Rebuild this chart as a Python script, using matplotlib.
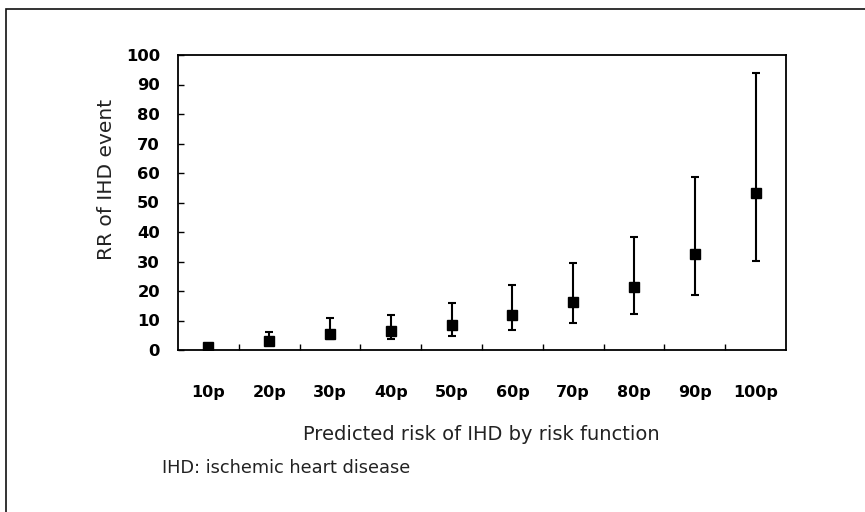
import numpy as np
import matplotlib
matplotlib.use("Agg")
import matplotlib.pyplot as plt
from matplotlib.patches import Rectangle

# RR of IHD event by decile of predicted risk
categories = ["10p", "20p", "30p", "40p", "50p", "60p", "70p", "80p", "90p", "100p"]
rr = [1.0, 3.0, 5.4, 6.4, 8.5, 11.9, 16.2, 21.2, 32.5, 53.1]
ci_low = [0.6, 1.8, 3.6, 3.8, 4.7, 6.9, 9.3, 12.2, 18.6, 30.3]
ci_high = [1.6, 6.2, 10.8, 11.9, 15.8, 22.0, 29.6, 38.4, 58.5, 94.0]
yticks = [0, 10, 20, 30, 40, 50, 60, 70, 80, 90, 100]

W, H = 865, 512
fig = plt.figure(figsize=(W / 100, H / 100), dpi=100)

# outer frame (runs off the right and bottom edges)
fig.patches.append(Rectangle((5.5 / W, -0.1), 1.2, 1 - 9 / H + 0.1,
                             transform=fig.transFigure, fill=False,
                             edgecolor="#111111", linewidth=1.2))

ax = fig.add_axes([178 / W, 1 - 350 / H, (786 - 178) / W, (350 - 55) / H])

x = np.arange(len(categories))
rr = np.array(rr)
yerr = np.array([rr - np.array(ci_low), np.array(ci_high) - rr])
ax.errorbar(x, rr, yerr=yerr, fmt="s", color="black", markersize=7.5,
            elinewidth=1.5, capsize=3, capthick=1.5)

ax.set_xlim(-0.5, len(categories) - 0.5)
ax.set_ylim(0, 100)
ax.set_yticks(yticks)
ax.set_yticklabels([str(v) for v in yticks], fontsize=11.8, fontweight="bold")
ax.set_xticks(x)
ax.set_xticklabels(categories, fontsize=11.5, fontweight="bold")
ax.set_xticks(np.arange(0.5, len(categories) - 0.5, 1), minor=True)
ax.tick_params(axis="x", which="major", length=0, pad=25)
ax.tick_params(axis="x", which="minor", direction="in", length=4, width=1)
ax.tick_params(axis="y", direction="in", length=4, width=1, pad=13)
for s in ax.spines.values():
    s.set_linewidth(1.3)
    s.set_color("black")

fig.text(481 / W, 1 - 434 / H, "Predicted risk of IHD by risk function",
         ha="center", va="center", fontsize=14, color="#222222")
fig.text(107 / W, 1 - 179 / H, "RR of IHD event", rotation=90,
         ha="center", va="center", fontsize=14.5, color="#222222")
fig.text(162 / W, 1 - 468 / H, "IHD: ischemic heart disease",
         ha="left", va="center", fontsize=12.8, color="#222222")

fig.savefig("out.png", dpi=100)
